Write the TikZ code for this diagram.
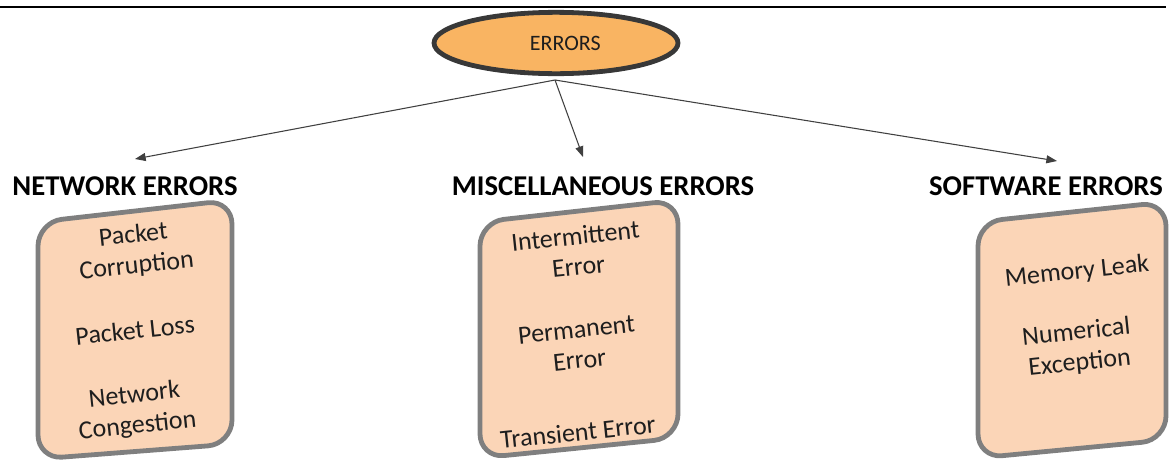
\documentclass[tikz,border=0pt]{standalone}
\usepackage{fontspec}
\setmainfont{Carlito}
\usetikzlibrary{shapes.geometric,arrows.meta,shadows}
\definecolor{ellfill}{HTML}{F9B462}
\definecolor{ellline}{HTML}{383838}
\definecolor{boxfill}{HTML}{FBD5B7}
\definecolor{boxline}{HTML}{7F7F7F}
\definecolor{txt}{HTML}{1E1E1E}
\tikzset{
  errbox/.style={draw=boxline, fill=boxfill, line width=3.6pt, rounded corners=18pt},
  heading/.style={font=\bfseries\fontsize{21.5}{24}\selectfont, text=black, inner sep=0pt},
  item/.style={font=\fontsize{19.5}{23}\selectfont, text=txt, align=center, rotate=6, inner sep=0pt},
  conn/.style={draw=black!75, line width=0.8pt, -{Triangle[length=8pt,width=6pt]}},
}
\begin{document}
\begin{tikzpicture}[x=0.75pt,y=-0.75pt]
\useasboundingbox (0,0) rectangle (1169,461);
% top rule
\draw[line width=1.4pt] (0,7) -- (1166,7);
% root
\node[ellipse, draw=ellline, fill=ellfill, line width=3.6pt,
      minimum width=183pt, minimum height=46pt,
      drop shadow={shadow xshift=0pt, shadow yshift=-1.5pt, opacity=0.35},
      font=\fontsize{16.5}{20}\selectfont, text=txt] (err) at (556,43) {\hspace{14pt}ERRORS};
\coordinate (hub) at (555,80);
% headings
\node[heading] (net) at (125,186) {NETWORK ERRORS};
\node[heading] (misc) at (603,186) {MISCELLANEOUS ERRORS};
\node[heading] (soft) at (1046,186) {SOFTWARE ERRORS};
\coordinate (tnet) at (135,159);
\coordinate (tmisc) at (583,157);
\coordinate (tsoft) at (1057,161);
\draw[conn] (hub) -- (tnet);
\draw[conn] (hub) -- (tmisc);
\draw[conn] (hub) -- (tsoft);
% boxes
\draw[errbox] (38,222) -- (232,200) -- (232,444) -- (38,459) -- cycle;
\draw[errbox] (480,222) -- (678,200) -- (678,438) -- (480,458) -- cycle;
\draw[errbox] (978,222) -- (1166,202) -- (1166,440) -- (978,458) -- cycle;
% items
\node[item] (n1) at (135,251) {Packet\\Corruption};
\node[item] (n2) at (135,330) {Packet Loss};
\node[item] (n3) at (136,411) {Network\\Congestion};
\node[item] (m1) at (577,251) {Intermittent\\Error};
\node[item] (m2) at (578,345) {Permanent\\Error};
\node[item] (m3) at (578,432) {Transient Error};
\node[item] (s1) at (1077,272) {Memory Leak};
\node[item] (s2) at (1078,348) {Numerical\\Exception};
\end{tikzpicture}
\end{document}
